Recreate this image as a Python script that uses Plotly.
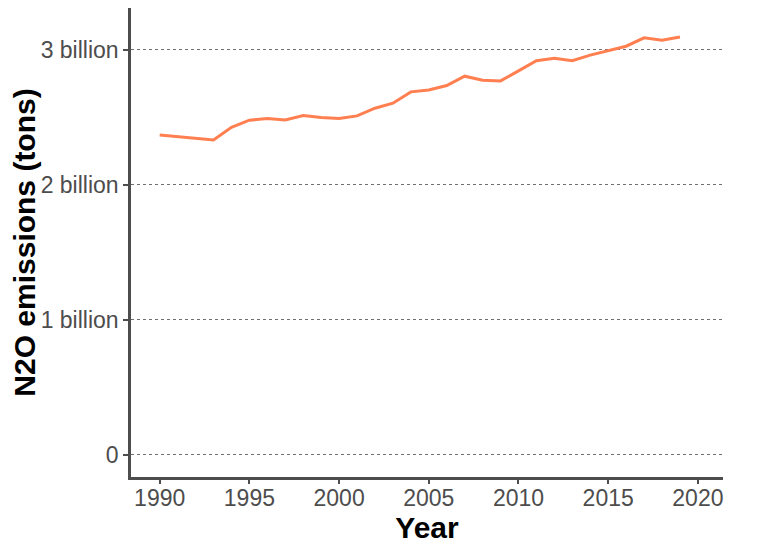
import plotly.graph_objects as go

# N2O emissions (tons)
years = list(range(1990, 2020))
emissions = [
    2.370e9, 2.356e9, 2.346e9, 2.333e9, 2.427e9, 2.479e9, 2.491e9, 2.481e9,
    2.513e9, 2.499e9, 2.491e9, 2.511e9, 2.568e9, 2.605e9, 2.689e9, 2.703e9,
    2.736e9, 2.805e9, 2.775e9, 2.770e9, 2.844e9, 2.919e9, 2.938e9, 2.919e9,
    2.961e9, 2.993e9, 3.027e9, 3.089e9, 3.072e9, 3.096e9,
]

x_ticks = [1990, 1995, 2000, 2005, 2010, 2015, 2020]
y_ticks = [0, 1e9, 2e9, 3e9]
y_tick_labels = ["0", "1 billion", "2 billion", "3 billion"]

axis_color = "#4d4d4d"

fig = go.Figure()
fig.add_trace(go.Scatter(
    x=years,
    y=emissions,
    mode="lines",
    line=dict(color="#ff7f50", width=3),
    showlegend=False,
))

fig.update_layout(
    width=768,
    height=549,
    margin=dict(l=123, r=53, t=0, b=80, autoexpand=False),
    plot_bgcolor="white",
    paper_bgcolor="white",
    font=dict(family="Liberation Sans, Arial, sans-serif"),
)

fig.update_xaxes(
    range=[1988.4, 2021.4],
    tickvals=x_ticks,
    showgrid=False,
    zeroline=False,
    showline=True,
    linecolor=axis_color,
    linewidth=2.5,
    ticks="outside",
    ticklen=4,
    tickwidth=1.5,
    tickcolor=axis_color,
    ticklabelstandoff=-5,
    tickfont=dict(size=23, color=axis_color),
    title=dict(text="<b>Year</b>", font=dict(size=30, color="black"), standoff=0),
)

fig.update_yaxes(
    range=[-0.163e9, 3.31e9],
    tickvals=y_ticks,
    ticktext=y_tick_labels,
    showgrid=True,
    gridcolor="#707070",
    griddash="dot",
    gridwidth=1,
    zeroline=False,
    showline=True,
    linecolor=axis_color,
    linewidth=2.5,
    ticks="outside",
    ticklen=5,
    tickwidth=1.5,
    tickcolor=axis_color,
    tickfont=dict(size=23, color=axis_color),
    title=dict(text="<b>N2O emissions (tons)</b>", font=dict(size=30, color="black"), standoff=8),
)

fig.write_html("out.html")
